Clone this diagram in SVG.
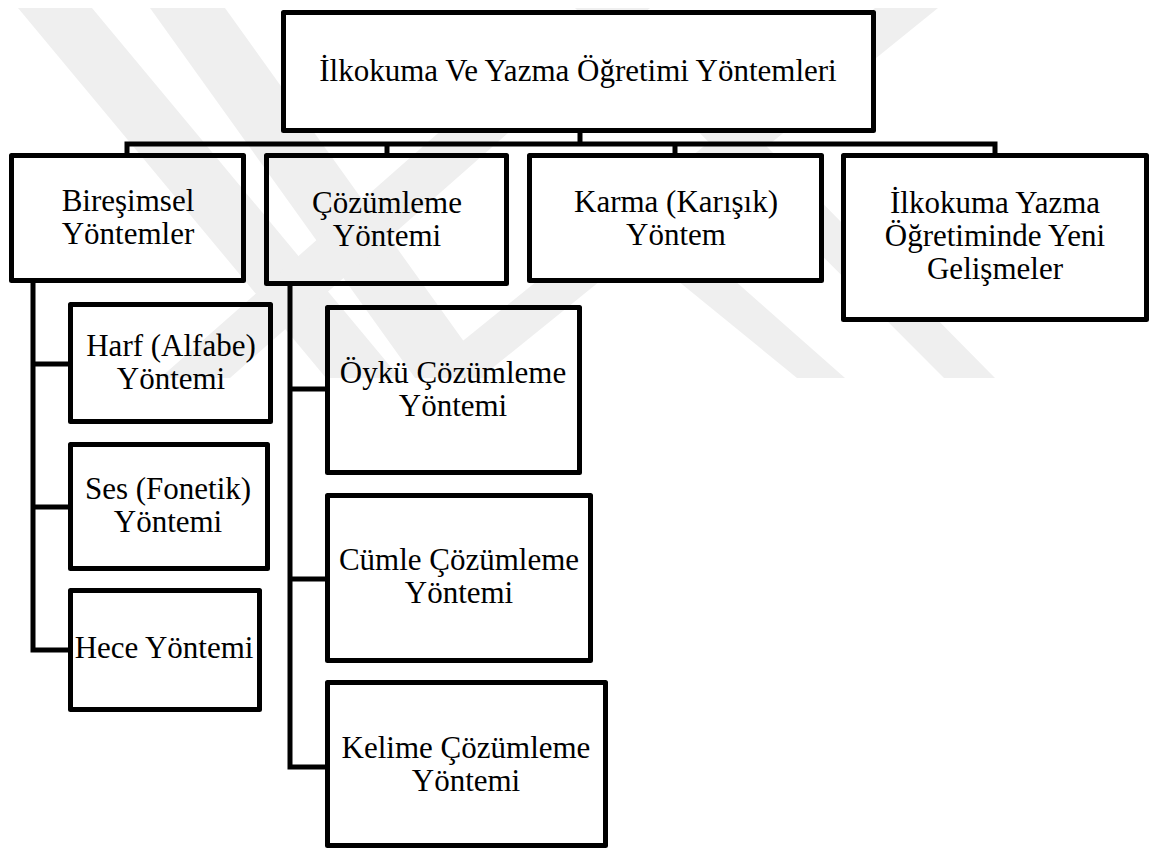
<svg xmlns="http://www.w3.org/2000/svg" width="1151" height="850" viewBox="0 0 1151 850">
<style>
.wm{fill:#efefef;stroke:none}
.box{fill:none;stroke:#000;stroke-width:5;stroke-linejoin:round}
.top{fill:#fff}
.con{fill:none;stroke:#000;stroke-width:5;stroke-linejoin:miter}
text{font-family:"Liberation Serif","Times New Roman",serif;font-size:31px;fill:#000;text-anchor:middle}
</style>
<rect x="0" y="0" width="1151" height="850" fill="#fff"/>
<g id="watermark">
<polygon class="wm" points="18,8 92,8 400,378 326,378"/>
<polygon class="wm" points="150,8 225,8 490,378 415,378"/>
<polygon class="wm" points="875,8 938,8 480,378 417,378"/>
<polygon class="wm" points="580,8 650,8 230,378 160,378"/>
<polygon class="wm" points="640,250 700,250 845,378 797,378"/>
<polygon class="wm" points="575,8 630,8 995,378 944,378"/>
</g>
<g id="connectors">
<path class="con" d="M580 133 V144"/>
<path class="con" d="M127 155 V144 H995 V155"/>
<path class="con" d="M387 144 V155"/>
<path class="con" d="M675 144 V155"/>
<path class="con" d="M33 283 V650 H70"/>
<path class="con" d="M33 364 H70"/>
<path class="con" d="M33 507 H70"/>
<path class="con" d="M290 286 V767 H327"/>
<path class="con" d="M290 389 H327"/>
<path class="con" d="M290 579 H327"/>
</g>
<g id="root">
<rect class="box top" x="283.5" y="12.5" width="590" height="118"/>
<text x="578" y="81">İlkokuma Ve Yazma Öğretimi Yöntemleri</text>
</g>
<g id="biresimsel">
<rect class="box" x="11.5" y="155.5" width="232" height="125"/>
<text x="128" y="211">Bireşimsel</text>
<text x="128" y="244">Yöntemler</text>
</g>
<g id="cozumleme">
<rect class="box" x="266.5" y="155.5" width="240" height="128"/>
<text x="387" y="213">Çözümleme</text>
<text x="387" y="246">Yöntemi</text>
</g>
<g id="karma">
<rect class="box top" x="529.5" y="155.5" width="292" height="125"/>
<text x="676" y="212">Karma (Karışık)</text>
<text x="676" y="245">Yöntem</text>
</g>
<g id="yeni">
<rect class="box top" x="843.5" y="155.5" width="303" height="164"/>
<text x="995" y="213">İlkokuma Yazma</text>
<text x="995" y="246">Öğretiminde Yeni</text>
<text x="995" y="279">Gelişmeler</text>
</g>
<g id="harf">
<rect class="box" x="70.5" y="304.5" width="200" height="117"/>
<text x="171" y="356">Harf (Alfabe)</text>
<text x="171" y="389">Yöntemi</text>
</g>
<g id="ses">
<rect class="box" x="70.5" y="444.5" width="197" height="124"/>
<text x="168" y="499">Ses (Fonetik)</text>
<text x="168" y="532">Yöntemi</text>
</g>
<g id="hece">
<rect class="box" x="70.5" y="590.5" width="189" height="119"/>
<text x="164" y="658">Hece Yöntemi</text>
</g>
<g id="oyku">
<rect class="box" x="327.5" y="307.5" width="252" height="165"/>
<text x="453" y="383">Öykü Çözümleme</text>
<text x="453" y="416">Yöntemi</text>
</g>
<g id="cumle">
<rect class="box" x="327.5" y="495.5" width="263" height="165"/>
<text x="459" y="570">Cümle Çözümleme</text>
<text x="459" y="603">Yöntemi</text>
</g>
<g id="kelime">
<rect class="box" x="327.5" y="682.5" width="278" height="163"/>
<text x="466" y="758">Kelime Çözümleme</text>
<text x="466" y="791">Yöntemi</text>
</g>
</svg>
